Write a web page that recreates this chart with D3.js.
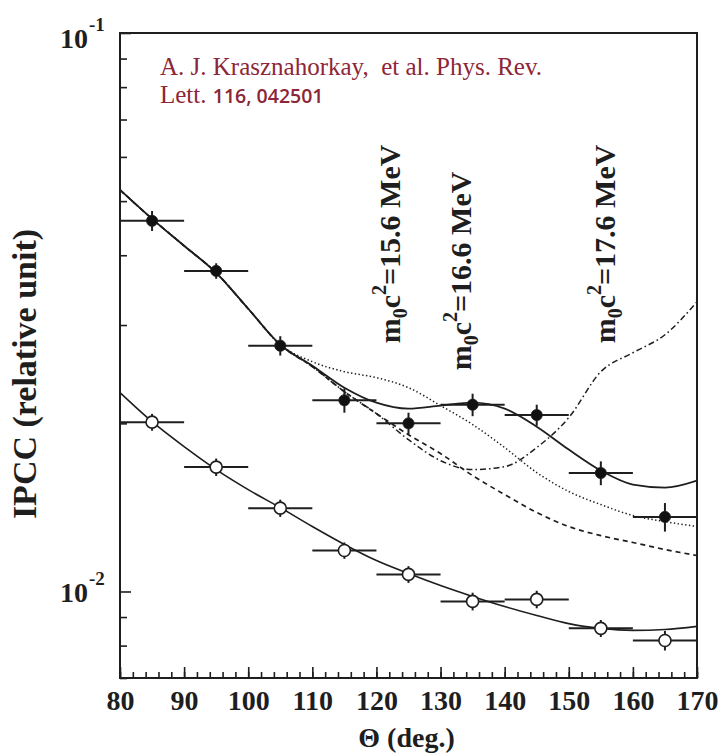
<!DOCTYPE html>
<html><head><meta charset="utf-8">
<script src="https://cdn.jsdelivr.net/npm/d3@7"></script>
<style>body{margin:0;background:#fff} svg{display:block}</style>
</head><body>
<svg id="chart" width="721" height="756"></svg>
<script>
// ---------------- data ----------------
const angles = [85, 95, 105, 115, 125, 135, 145, 155, 165];
const angleHalfWidth = 5;
const filledValues = [0.0461, 0.0375, 0.02755, 0.0220, 0.0200, 0.0216, 0.0207, 0.0163, 0.0136];
const filledErrors = [0.0019, 0.0012, 0.0011, 0.0011, 0.0009, 0.0010, 0.0009, 0.0008, 0.0008];
const openValues = [0.0201, 0.0167, 0.0141, 0.01184, 0.01073, 0.0096, 0.00968, 0.00859, 0.00817];
const openErrors = [0.0007, 0.0006, 0.0005, 0.0004, 0.00037, 0.00035, 0.00035, 0.0003, 0.00033];

const curveAngles = [80, 85, 90, 95, 100, 105, 110, 115, 120, 125, 130, 135, 140, 145, 150, 155, 160, 165, 170];
const fit166 = [0.05238, 0.04648, 0.04159, 0.03721, 0.03208, 0.02766, 0.02537, 0.02317, 0.02178, 0.02125, 0.02152, 0.02178, 0.02125, 0.01973, 0.01795, 0.01646, 0.01554, 0.01535, 0.01580];
const fit156 = [0.05238, 0.04648, 0.04159, 0.03721, 0.03208, 0.02766, 0.02579, 0.02475, 0.02415, 0.02317, 0.02152, 0.0199, 0.0181, 0.01633, 0.0151, 0.01431, 0.01368, 0.01334, 0.01307];
const fitNoBoson = [0.05238, 0.04648, 0.04159, 0.03721, 0.03208, 0.02766, 0.02527, 0.02279, 0.02082, 0.01909, 0.01766, 0.01613, 0.01491, 0.01385, 0.01307, 0.01259, 0.01224, 0.01189, 0.0116];
const fit176 = [0.05238, 0.04648, 0.04159, 0.03721, 0.03208, 0.02766, 0.02527, 0.02279, 0.02082, 0.01870, 0.01715, 0.01653, 0.01673, 0.0181, 0.02048, 0.02475, 0.02676, 0.02882, 0.03302];
const fitLower = [0.02270, 0.02014, 0.01817, 0.01653, 0.01522, 0.01413, 0.01307, 0.01214, 0.01136, 0.01077, 0.01025, 0.00980, 0.00940, 0.00906, 0.00876, 0.00859, 0.00852, 0.00855, 0.00866];

const xMajorTicks = [80, 90, 100, 110, 120, 130, 140, 150, 160, 170];
const xMinorTicks = d3.range(80, 171, 2);
const yMajorTicks = [0.01, 0.1];
const yMinorTicks = [0.007, 0.008, 0.009, 0.02, 0.03, 0.04, 0.05, 0.06, 0.07, 0.08, 0.09];
const yTickBases = ["10", "10"];
const yTickExps = ["-2", "-1"];
const massLabels = ["15.6", "16.6", "17.6"];
const xTitle = "\u0398 (deg.)";
const yTitle = "IPCC (relative unit)";
const citeLine1 = "A. J. Krasznahorkay,  et al. Phys. Rev.";
const citeLine2a = "Lett. ";
const citeLine2b = "116, 042501";

// ---------------- chart ----------------
const svg = d3.select("#chart");
const L = 120, R = 697, T = 33, B = 678;
const x = d3.scaleLinear().domain([80, 170]).range([L, R]);
const y = d3.scaleLog().domain([0.007, 0.1]).range([B, T]);
const ink = "#1e1e1e";
const serif = "'Liberation Serif','Times New Roman',Times,serif";

svg.append("defs").append("clipPath").attr("id", "clip")
  .append("rect").attr("x", L).attr("y", T).attr("width", R - L).attr("height", B - T);

// curves
const line = d3.line().x(d => x(d[0])).y(d => y(d[1])).curve(d3.curveMonotoneX);
const curves = [
  {vals: fitNoBoson, dash: "5,4", w: 1.7},
  {vals: fit176, dash: "6,3,1.6,3", w: 1.5},
  {vals: fit156, dash: "1.4,2.4", w: 1.5},
  {vals: fit166, dash: null, w: 1.8},
  {vals: fitLower, dash: null, w: 1.6}
];
const cg = svg.append("g").attr("clip-path", "url(#clip)");
curves.forEach(c => {
  cg.append("path")
    .datum(curveAngles.map((a, i) => [a, c.vals[i]]))
    .attr("d", line)
    .attr("fill", "none")
    .attr("stroke", ink)
    .attr("stroke-width", c.w)
    .attr("stroke-dasharray", c.dash);
});

// error bars and markers
function drawSeries(values, errors, filled) {
  const g = svg.append("g");
  angles.forEach((a, i) => {
    const v = values[i], e = errors[i];
    g.append("line").attr("x1", x(a - angleHalfWidth)).attr("x2", x(Math.min(a + angleHalfWidth, 170)))
      .attr("y1", y(v)).attr("y2", y(v)).attr("stroke", ink).attr("stroke-width", 2);
    g.append("line").attr("x1", x(a)).attr("x2", x(a))
      .attr("y1", y(v - e)).attr("y2", y(v + e)).attr("stroke", ink).attr("stroke-width", 2);
  });
  g.selectAll("circle").data(angles).join("circle")
    .attr("cx", d => x(d)).attr("cy", (d, i) => y(values[i]))
    .attr("r", filled ? 5.6 : 6)
    .attr("fill", filled ? "#111" : "#fff")
    .attr("stroke", ink).attr("stroke-width", filled ? 0.8 : 1.6);
}
drawSeries(openValues, openErrors, false);
drawSeries(filledValues, filledErrors, true);

// axes
const xMinorAxis = d3.axisBottom(x).tickValues(xMinorTicks).tickSize(-6).tickFormat("");
const xMajorAxis = d3.axisBottom(x).tickValues(xMajorTicks).tickSize(-11).tickPadding(12).tickFormat(d3.format("d"));
const yMinorAxis = d3.axisLeft(y).tickValues(yMinorTicks).tickSize(-7).tickFormat("");
const yMajorAxis = d3.axisLeft(y).tickValues(yMajorTicks).tickSize(-11).tickFormat("");
[xMinorAxis, xMajorAxis].forEach(ax => {
  const g = svg.append("g").attr("transform", `translate(0,${B})`).call(ax);
  g.select(".domain").remove();
  g.selectAll(".tick line").attr("stroke", ink).attr("stroke-width", 1.6);
  g.selectAll(".tick text").attr("font-family", serif).attr("font-weight", "bold")
    .attr("font-size", 28).attr("fill", ink);
});
[yMinorAxis, yMajorAxis].forEach(ax => {
  const g = svg.append("g").attr("transform", `translate(${L},0)`).call(ax);
  g.select(".domain").remove();
  g.selectAll(".tick line").attr("stroke", ink).attr("stroke-width", 1.6);
});

// y tick labels 10^-n
yMajorTicks.forEach((v, i) => {
  const yy = y(v) + (v === 0.1 ? 15 : 11);
  svg.append("text").attr("x", 88).attr("y", yy).attr("text-anchor", "end")
    .attr("font-family", serif).attr("font-weight", "bold").attr("font-size", 28).attr("fill", ink)
    .text(yTickBases[i]);
  svg.append("text").attr("x", 89).attr("y", yy - 17).attr("text-anchor", "start")
    .attr("font-family", serif).attr("font-weight", "bold").attr("font-size", 19).attr("fill", ink)
    .text(yTickExps[i]);
});

// frame
svg.append("rect").attr("x", L).attr("y", T).attr("width", R - L).attr("height", B - T)
  .attr("fill", "none").attr("stroke", ink).attr("stroke-width", 2);

// axis titles
svg.append("text").attr("x", (L + R) / 2 - 2).attr("y", 747).attr("text-anchor", "middle")
  .attr("font-family", serif).attr("font-weight", "bold").attr("font-size", 28).attr("fill", ink)
  .text(xTitle);
svg.append("text").attr("transform", "translate(36,374) rotate(-90)").attr("text-anchor", "middle")
  .attr("font-family", serif).attr("font-weight", "bold").attr("font-size", 34).attr("fill", ink)
  .text(yTitle);

// mass labels (rotated)
const massPos = [[400, 244], [471, 271], [615, 244]];
massLabels.forEach((m, i) => {
  const t = svg.append("text")
    .attr("transform", `translate(${massPos[i][0]},${massPos[i][1]}) rotate(-90)`)
    .attr("text-anchor", "middle")
    .attr("font-family", serif).attr("font-weight", "bold").attr("font-size", 30).attr("fill", ink);
  t.append("tspan").text("m");
  t.append("tspan").attr("dy", 7).attr("font-size", 20).text("0");
  t.append("tspan").attr("dy", -7).text("c");
  t.append("tspan").attr("dy", -14).attr("font-size", 20).text("2");
  t.append("tspan").attr("dy", 14).text("=" + m + " MeV");
});

// citation
const cite = "#8c2638";
svg.append("text").attr("x", 160).attr("y", 75).attr("font-family", serif).attr("font-size", 25)
  .attr("fill", cite).style("white-space", "pre").text(citeLine1);
const c2 = svg.append("text").attr("x", 160).attr("y", 103).attr("fill", cite).style("white-space", "pre");
c2.append("tspan").attr("font-family", serif).attr("font-size", 25).text(citeLine2a);
c2.append("tspan").attr("font-family", "'Open Sans',sans-serif").attr("font-size", 19.5).attr("font-weight", 600).text(citeLine2b);
</script>
</body></html>
